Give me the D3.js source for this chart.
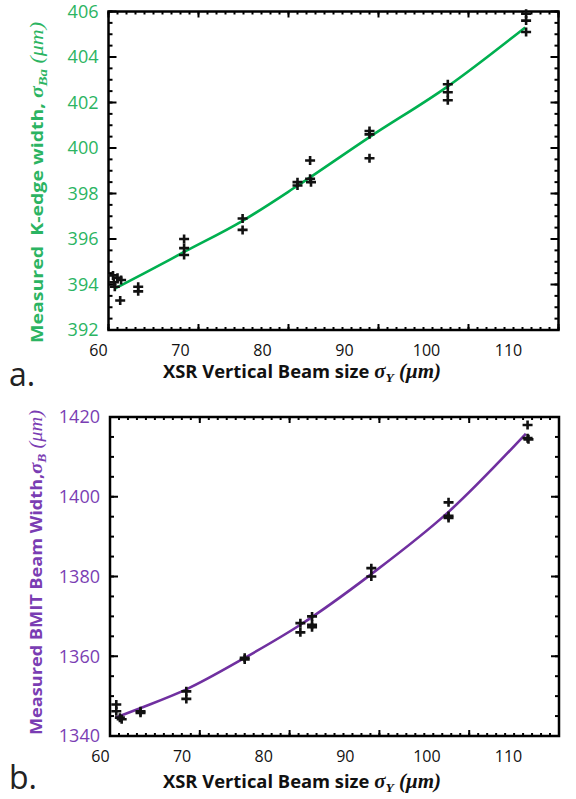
<!DOCTYPE html>
<html>
<head>
<meta charset="utf-8">
<script src="https://cdnjs.cloudflare.com/ajax/libs/d3/7.8.5/d3.min.js"></script>
<style>
  html, body { margin: 0; padding: 0; background: #fff; }
  svg { display: block; }
</style>
</head>
<body>
<div id="chart"></div>
<script>
// data
var xTicks = [60, 70, 80, 90, 100, 110];

// panel a: K-edge width vs XSR beam size
var kedgeX = [60.5, 60.7, 61.0, 61.4, 61.3, 60.6, 63.3, 63.3, 68.4, 68.4, 68.4, 74.9, 74.9,
              81.0, 81.0, 82.4, 82.4, 82.5, 89.0, 89.0, 89.0, 97.7, 97.7, 97.7, 106.4, 106.4, 106.4];
var kedgeY = [394.4, 393.9, 394.3, 394.2, 393.3, 394.1, 393.9, 393.7, 396.0, 395.6, 395.3, 396.9, 396.4,
              398.5, 398.35, 399.45, 398.65, 398.5, 400.75, 400.6, 399.55, 402.8, 402.45, 402.1, 405.9, 405.6, 405.1];
var kedgeFitX = [60.7, 64.0, 68.4, 74.9, 81.0, 89.0, 97.7, 106.3];
var kedgeFitY = [393.82, 394.5, 395.43, 396.8, 398.34, 400.48, 402.71, 405.3];
var kedgeTicks = [392, 394, 396, 398, 400, 402, 404, 406];

// panel b: BMIT beam width vs XSR beam size
var bmitX = [60.7, 60.7, 61.1, 61.3, 63.4, 63.4, 68.5, 68.5, 75.0, 75.0, 81.2, 81.2,
             82.5, 82.5, 82.5, 89.1, 89.1, 97.7, 97.7, 97.7, 106.5, 106.5, 106.6];
var bmitY = [1347.9, 1346.2, 1344.6, 1344.2, 1346.2, 1345.8, 1351.2, 1349.3, 1359.6, 1359.2, 1368.3, 1366.0,
             1370.0, 1367.9, 1367.3, 1382.1, 1380.0, 1398.6, 1395.2, 1394.7, 1418.0, 1414.7, 1414.4];
var bmitFitX = [60.6, 63.5, 68.5, 75.0, 81.2, 89.1, 97.7, 106.3];
var bmitFitY = [1344.6, 1347.1, 1351.7, 1359.6, 1367.9, 1380.6, 1396.2, 1415.8];
var bmitTicks = [1340, 1360, 1380, 1400, 1420];

var W = 576, H = 799;
var sans = "'Open Sans', 'Noto Sans', sans-serif";
var serif = "'Liberation Serif', 'DejaVu Serif', serif";

var svg = d3.select("#chart").append("svg")
    .attr("width", W).attr("height", H);

function drawPanel(p) {
  var x = d3.scaleLinear().domain([60, 110]).range([p.left, p.right]);
  var y = d3.scaleLinear().domain(p.yDomain).range([p.bottom, p.top]);
  // tick labels in the figure sit on a slightly narrower span than the ticks
  var xl = d3.scaleLinear().domain([60, 110]).range(p.labelRange);

  var g = svg.append("g");
  var xMinor = d3.range(60, 110.01, 1);
  var yMinor = d3.range(p.yDomain[0], p.yDomain[1] + 0.001, p.yMinorStep);

  // inward ticks on all four sides (minor, then major)
  var ticks = g.append("g").attr("stroke", "#000").attr("stroke-width", 2);
  [[xMinor, 3], [xTicks, 6]].forEach(function(t) {
    ticks.selectAll(null).data(t[0]).enter().append("line")
      .attr("x1", function(d) { return x(d); }).attr("x2", function(d) { return x(d); })
      .attr("y1", p.bottom).attr("y2", p.bottom - t[1]);
    ticks.selectAll(null).data(t[0]).enter().append("line")
      .attr("x1", function(d) { return x(d); }).attr("x2", function(d) { return x(d); })
      .attr("y1", p.top).attr("y2", p.top + t[1]);
  });
  [[yMinor, 4], [p.yTicks, 8]].forEach(function(t) {
    ticks.selectAll(null).data(t[0]).enter().append("line")
      .attr("y1", function(d) { return y(d); }).attr("y2", function(d) { return y(d); })
      .attr("x1", p.left).attr("x2", p.left + t[1]);
    ticks.selectAll(null).data(t[0]).enter().append("line")
      .attr("y1", function(d) { return y(d); }).attr("y2", function(d) { return y(d); })
      .attr("x1", p.right).attr("x2", p.right - t[1]);
  });

  g.append("rect")
    .attr("x", p.left).attr("y", p.top)
    .attr("width", p.right - p.left).attr("height", p.bottom - p.top)
    .style("fill", "none").style("stroke", "#000").style("stroke-width", 2.5);

  // y tick labels
  g.append("g")
    .attr("transform", "translate(" + (p.left - 10) + ",0)")
    .call(d3.axisLeft(y).tickValues(p.yTicks).tickSize(0).tickPadding(0).tickFormat(d3.format("d")))
    .call(function(s) {
      s.select(".domain").remove();
      s.selectAll("text").attr("font-family", sans).attr("font-size", 18)
        .attr("fill", p.labelColor);
    });

  // x tick labels
  g.append("g")
    .attr("transform", "translate(0," + p.xLabelY + ")")
    .call(d3.axisBottom(xl).tickValues(xTicks).tickSize(0).tickPadding(0).tickFormat(d3.format("d")))
    .call(function(s) {
      s.select(".domain").remove();
      s.selectAll("text").attr("font-family", sans).attr("font-size", 16)
        .attr("fill", "#111").attr("dy", "0");
    });

  // fit curve
  var fit = d3.zip(p.fitX, p.fitY);
  g.append("path")
    .datum(fit)
    .attr("fill", "none")
    .attr("stroke", p.lineColor)
    .attr("stroke-width", 2.6)
    .attr("d", d3.line().curve(d3.curveMonotoneX)
      .x(function(d) { return x(d[0]); })
      .y(function(d) { return y(d[1]); }));

  // plus markers
  var pts = d3.zip(p.ptX, p.ptY);
  g.selectAll("path.pt").data(pts).enter().append("path")
    .attr("class", "pt")
    .attr("d", function(d) {
      var cx = x(d[0]), cy = y(d[1]);
      return "M" + (cx - 5) + "," + cy + "H" + (cx + 5) +
             "M" + cx + "," + (cy - 4.5) + "V" + (cy + 4.5);
    })
    .attr("stroke", "#111").attr("stroke-width", 2.6).attr("fill", "none");

  // x title
  var xt = g.append("text")
    .attr("x", p.xTitleX).attr("y", p.xTitleY)
    .attr("textLength", p.xTitleLen).attr("lengthAdjust", "spacingAndGlyphs")
    .attr("font-size", 17.5).attr("fill", "#111");
  xt.append("tspan").attr("font-family", sans).attr("font-weight", "bold")
    .text("XSR Vertical Beam size ");
  xt.append("tspan").attr("font-family", serif).attr("font-weight", "bold")
    .attr("font-style", "italic").attr("font-size", 20).text("σ");
  xt.append("tspan").attr("font-family", serif).attr("font-weight", "bold")
    .attr("font-style", "italic").attr("font-size", 13).attr("dy", 4).text("Y");
  xt.append("tspan").attr("font-family", serif).attr("font-weight", "bold")
    .attr("font-style", "italic").attr("font-size", 20).attr("dy", -4).text(" (μm)");

  // y title
  var yt = g.append("text")
    .attr("transform", "translate(" + p.yTitleX + "," + p.yTitleBottom + ") rotate(-90)")
    .attr("textLength", p.yTitleLen).attr("lengthAdjust", "spacingAndGlyphs")
    .attr("font-size", 16).attr("fill", p.labelColor);
  yt.append("tspan").attr("font-family", sans).attr("font-weight", "bold")
    .style("white-space", "pre").text(p.yTitleText);
  yt.append("tspan").attr("font-family", serif).attr("font-weight", "bold")
    .attr("font-style", "italic").attr("font-size", 18).text("σ");
  yt.append("tspan").attr("font-family", serif).attr("font-weight", "bold")
    .attr("font-style", "italic").attr("font-size", 12).attr("dy", 4).text(p.yTitleSub);
  yt.append("tspan").attr("font-family", serif)
    .attr("font-style", "italic").attr("font-size", 18).attr("dy", -4).text(" (μm)");

  // panel letter
  g.append("text")
    .attr("x", 9).attr("y", p.letterY)
    .attr("font-family", sans).attr("font-size", 32).attr("fill", "#222")
    .text(p.letter);
}

drawPanel({
  left: 108.5, right: 558.5, top: 11.5, bottom: 330,
  yDomain: [392, 406], yTicks: kedgeTicks, yMinorStep: 0.5,
  labelRange: [98, 508], xLabelY: 356,
  ptX: kedgeX, ptY: kedgeY, fitX: kedgeFitX, fitY: kedgeFitY,
  lineColor: "#00b050", labelColor: "#2bb462",
  xTitleX: 163, xTitleY: 378, xTitleLen: 278,
  yTitleX: 43, yTitleBottom: 343, yTitleLen: 321,
  yTitleText: "Measured  K-edge width, ", yTitleSub: "Ba",
  letter: "a.", letterY: 386
});

drawPanel({
  left: 110, right: 559, top: 417, bottom: 736,
  yDomain: [1340, 1420], yTicks: bmitTicks, yMinorStep: 5,
  labelRange: [100, 508], xLabelY: 762,
  ptX: bmitX, ptY: bmitY, fitX: bmitFitX, fitY: bmitFitY,
  lineColor: "#7030a0", labelColor: "#7a3db3",
  xTitleX: 163, xTitleY: 788, xTitleLen: 278,
  yTitleX: 42, yTitleBottom: 735, yTitleLen: 325,
  yTitleText: "Measured BMIT Beam Width,", yTitleSub: "B",
  letter: "b.", letterY: 789
});
</script>
</body>
</html>
